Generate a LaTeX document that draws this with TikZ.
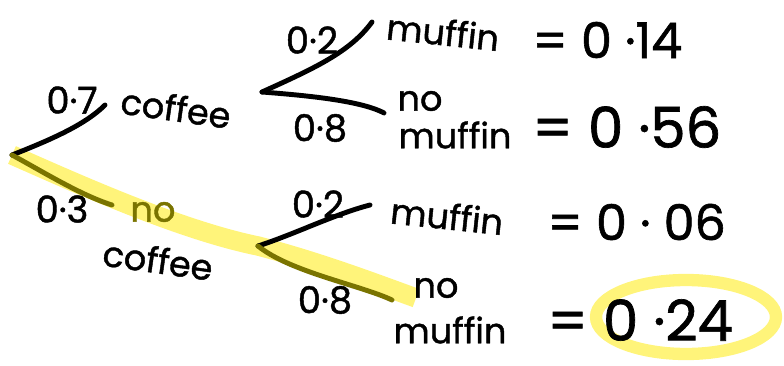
\documentclass[tikz,border=0pt]{standalone}
\usepackage{fontspec}
\setmainfont{Poppins}[FakeBold=1.2]
\definecolor{hl}{HTML}{FFF47A}
\definecolor{olivel}{HTML}{7A7400}
\begin{document}
\begin{tikzpicture}[x=0.02cm,y=-0.02cm,
  branch/.style={line width=2.8pt,line cap=round,black},
  hlbranch/.style={line width=2.8pt,line cap=round,olivel},
  band/.style={line width=11pt,hl,line join=round},
  prob/.style={font=\fontsize{21}{22}\selectfont,inner sep=0pt},
  word/.style={font=\fontsize{20}{20}\selectfont,inner sep=0pt},
  val/.style={font=\fontsize{28}{30}\selectfont,inner sep=0pt},
  bigval/.style={font=\fontsize{32}{34}\selectfont,inner sep=0pt}]
\useasboundingbox (0,0) rectangle (784,365);
% coordinates
\coordinate (root) at (12,155);
\coordinate (c1) at (105,105);
\coordinate (b1) at (262,92);
\coordinate (l1) at (372,22);
\coordinate (l2) at (384,113);
\coordinate (b2) at (258,246);
\coordinate (l3) at (370,205);
\coordinate (l4) at (392,300);
\coordinate (m1) at (112,205);
\coordinate (hlend) at (416,298);
% highlight
\draw[band] (root) .. controls (80,185) and (180,230) .. (b2)
  .. controls (320,262) and (380,285) .. (hlend);
\draw[line width=7pt,hl] (686,317) ellipse [x radius=1.8cm, y radius=0.74cm];
% branches
\draw[branch] (root) .. controls (50,140) and (85,125) .. (c1);
\draw[hlbranch] (root) .. controls (40,170) and (80,195) .. (m1);
\draw[branch] (b1) .. controls (315,68) and (350,52) .. (l1);
\draw[branch] (b1) .. controls (300,95) and (360,100) .. (l2);
\draw[branch] (b2) .. controls (295,234) and (335,214) .. (l3);
\draw[hlbranch] (b2) .. controls (290,272) and (360,285) .. (l4);
% probability labels
\node[prob] (p07) at (72,100) {0·7};
\node[prob] (p03) at (62,209) {0·3};
\node[prob] (p02a) at (312,40) {0·2};
\node[prob] (p08a) at (320,128) {0·8};
\node[prob] (p02b) at (318,204) {0·2};
\node[prob] (p08b) at (325,300) {0·8};
% coffee labels
\node[word,rotate=-8] (cof) at (176,108) {coffee};
\node[word,olivel] (no1) at (153,212) {no};
\node[word,rotate=-8] (ncof) at (158,260) {coffee};
% leaf labels
\node[word,rotate=-6] (w1) at (443,32) {muffin};
\node[word] (no2) at (420,101) {no};
\node[word] (w2) at (455,135) {muffin};
\node[word,rotate=-6] (w3) at (447,216) {muffin};
\node[word] (no4) at (436,288) {no};
\node[word] (w4) at (450,330) {muffin};
% values
\node[val,anchor=west] (v1) at (532,40) {= 0 ·14};
\node[bigval,anchor=west] (v2) at (532,127) {= 0 ·56};
\node[val,anchor=west] (v3) at (547,222) {= 0 · 06};
\node[bigval,anchor=west] (v4) at (547,320) {= 0 ·24};
\end{tikzpicture}
\end{document}
